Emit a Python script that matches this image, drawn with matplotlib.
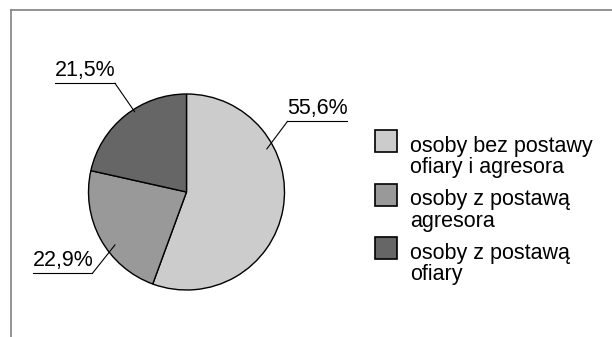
import matplotlib
matplotlib.use("Agg")
import matplotlib.pyplot as plt
from matplotlib.patches import Rectangle

plt.rcParams['font.family'] = ['Liberation Sans', 'DejaVu Sans']

# udział poszczególnych grup
labels = ["osoby bez postawy\nofiary i agresora",
          "osoby z postawą\nagresora",
          "osoby z postawą\nofiary"]
values = [55.6, 22.9, 21.5]
value_texts = ["55,6%", "22,9%", "21,5%"]
colors = ['#cccccc', '#999999', '#666666']

W, H = 612, 337
fig = plt.figure(figsize=(W / 100, H / 100), dpi=100)

# warstwa w pikselach: ramka i legenda
bg = fig.add_axes([0, 0, 1, 1])
bg.set_xlim(0, W)
bg.set_ylim(H, 0)
bg.axis('off')
bg.plot([11, W], [10, 10], color='#808080', lw=1.2)
bg.plot([11, 11], [10, H], color='#808080', lw=1.2)

# wykres kołowy
cx, cy, r = 186.5, 192, 98
ax = fig.add_axes([(cx - r) / W, (H - cy - r) / H, 2 * r / W, 2 * r / H])
ax.pie(values, colors=colors, startangle=90, counterclock=False,
       wedgeprops=dict(edgecolor='black', linewidth=1))
ax.set_xlim(-1, 1)
ax.set_ylim(-1, 1)
ax.set_aspect('auto')

# etykiety: podkreślenie (x od, x do, y), punkt zaczepienia linii, punkt w wycinku
callouts = [
    (1.03, 1.64, 0.72, 1.03, (0.82, 0.44)),
    (-1.57, -0.96, -0.83, -0.96, (-0.73, -0.54)),
    (-1.34, -0.73, 1.11, -0.73, (-0.53, 0.82)),
]
for txt, (x0, x1, yl, xa, (xp, yp)) in zip(value_texts, callouts):
    ax.plot([x0, x1], [yl, yl], color='black', lw=0.8, clip_on=False)
    ax.plot([xa, xp], [yl, yp], color='black', lw=0.8, clip_on=False)
    ax.text(x0, yl + 0.02, txt, fontsize=15.5, ha='left', va='bottom')

# legenda
for i, (lab, col) in enumerate(zip(labels, colors)):
    top = 130 + i * 53.5
    bg.add_patch(Rectangle((375, top), 22, 22, facecolor=col,
                           edgecolor='black', lw=1.2))
    first, second = lab.split("\n")
    bg.text(410, top + 22, first, fontsize=15.5, ha='left', va='baseline')
    bg.text(410, top + 43, second, fontsize=15.5, ha='left', va='baseline')

fig.savefig('out.png', dpi=100)
